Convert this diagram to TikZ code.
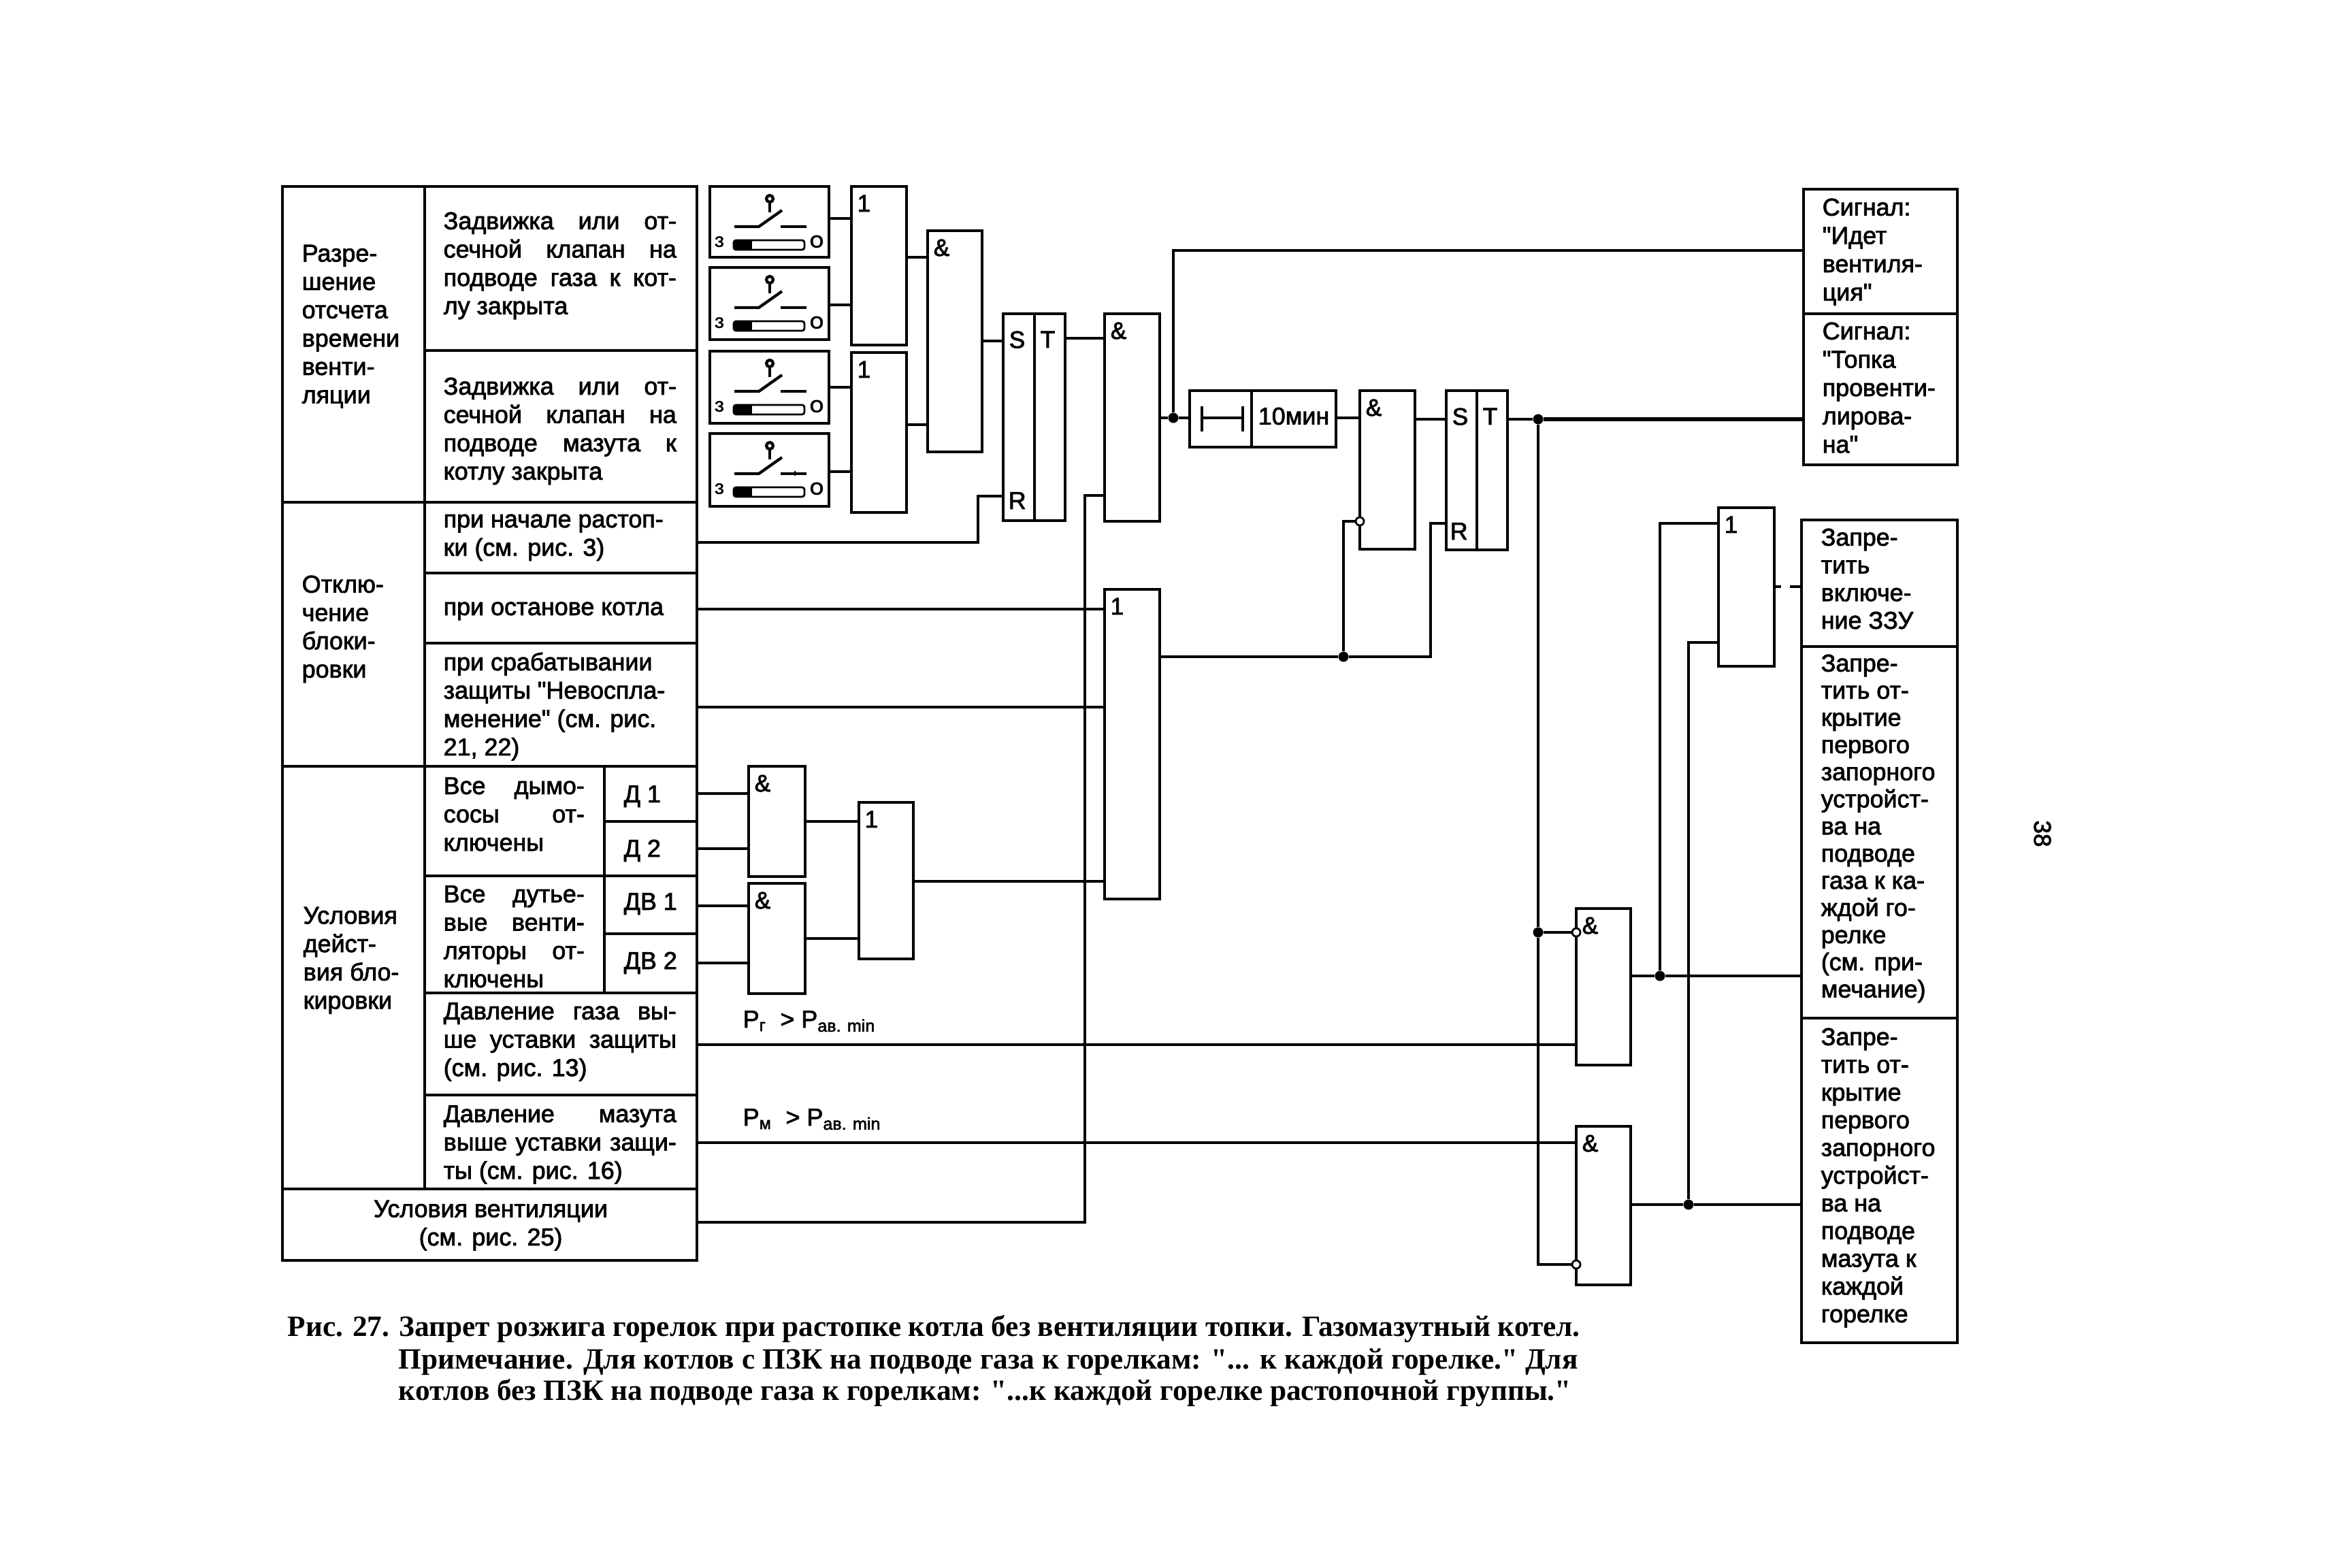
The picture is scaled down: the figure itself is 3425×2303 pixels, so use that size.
\documentclass[tikz,border=0pt]{standalone}
\usepackage{fontspec}
\setmainfont{Liberation Sans}
\newfontfamily\scanfont[FakeBold=2.2]{Liberation Sans}
\newfontfamily\capfont{Liberation Serif}
\usetikzlibrary{fit}
\hbadness=10000
\hfuzz=5pt
\tikzset{
  cell/.style={draw,line width=1.3pt,inner sep=0pt,outer sep=0pt},
  gate/.style={cell},
  glab/.style={anchor=north west,inner sep=0pt,xshift=0.8mm,yshift=-1.2mm,font=\scanfont\fontsize{10}{12}\selectfont},
  glabel/.style={label={[glab]north west:#1}},
  srlabel/.style={label={[glab,yshift=-1.3mm]north west:#1}},
  txt/.style={anchor=north west,inner sep=0pt,align=left,font=\scanfont\fontsize{10.2}{11.84}\selectfont,execute at begin node=\strut},
  txtj/.style={txt,text width=#1,align=justify,execute at begin node={\sloppy\strut}},
  txtr/.style={txt,font=\scanfont\fontsize{10.2}{#1}\selectfont},
  capl/.style={anchor=base west,inner sep=0pt,font=\capfont\bfseries\fontsize{12.3}{13.1}\selectfont},
  wire/.style={very thick},
  dot/.style={circle,fill=black,inner sep=0pt,minimum size=1.5mm},
  inv/.style={circle,draw,thick,fill=white,inner sep=0pt,minimum size=1.2mm},
}
\begin{document}
\begin{tikzpicture}[x=0.01cm,y=-0.01cm]
  \fill[white] (0,0) rectangle (3425,2303);
  % table on the left
  \node[cell,fit={(415,274)(624,738)}] (grpa) {};
  \node[cell,fit={(415,738)(624,1126)}] (grpb) {};
  \node[cell,fit={(415,1126)(624,1747)}] (grpc) {};
  \node[cell,fit={(624,274)(1024,515)}] (ca1) {};
  \node[cell,fit={(624,515)(1024,738)}] (ca2) {};
  \node[cell,fit={(624,738)(1024,842)}] (cb1) {};
  \node[cell,fit={(624,842)(1024,945)}] (cb2) {};
  \node[cell,fit={(624,945)(1024,1126)}] (cb3) {};
  \node[cell,fit={(624,1126)(888,1287)}] (cc1) {};
  \node[cell,fit={(624,1287)(888,1459)}] (cc2) {};
  \node[cell,fit={(888,1126)(1024,1207)}] (dym1) {};
  \node[cell,fit={(888,1207)(1024,1287)}] (dym2) {};
  \node[cell,fit={(888,1287)(1024,1372)}] (dut1) {};
  \node[cell,fit={(888,1372)(1024,1459)}] (dut2) {};
  \node[cell,fit={(624,1459)(1024,1609)}] (cc3) {};
  \node[cell,fit={(624,1609)(1024,1747)}] (cc4) {};
  \node[cell,fit={(415,1747)(1024,1852)}] (vent) {};

  \node[txt] (ta) at (443,359) {Разре-\\шение\\отсчета\\времени\\венти-\\ляции};
  \node[txt] (tb) at (443,845) {Отклю-\\чение\\блоки-\\ровки};
  \node[txt] (tc) at (445,1332) {Условия\\дейст-\\вия бло-\\кировки};
  \node[txtj=3.42cm] (ta1) at (651,307) {Задвижка или от-\linebreak сечной клапан на\linebreak подводе газа к кот-\linebreak лу закрыта};
  \node[txtj=3.42cm] (ta2) at (651,550) {Задвижка или от-\linebreak сечной клапан на\linebreak подводе мазута к\linebreak котлу закрыта};
  \node[txt] (tb1) at (651,755) {при начале растоп-\\ки (см. рис. 3)};
  \node[txt] (tb2) at (651,874) {при останове котла};
  \node[txt] (tb3) at (651,958) {при срабатывании\\защиты "Невоспла-\\менение" (см. рис.\\21, 22)};
  \node[txtj=2.07cm] (tc1) at (651,1137) {Все дымо-\linebreak сосы от-\linebreak ключены};
  \node[txtj=2.07cm] (tc2) at (651,1296) {Все дутье-\linebreak вые венти-\linebreak ляторы от-\linebreak ключены};
  \node[txt] (td1) at (916,1149) {Д 1};
  \node[txt] (td2) at (916,1229) {Д 2};
  \node[txt] (tv1) at (916,1307) {ДВ 1};
  \node[txt] (tv2) at (916,1394) {ДВ 2};
  \node[txtj=3.42cm] (tc3) at (651,1468) {Давление газа вы-\linebreak ше уставки защиты\linebreak (см. рис. 13)};
  \node[txtj=3.42cm] (tc4) at (651,1619) {Давление мазута\linebreak выше уставки защи-\linebreak ты (см. рис. 16)};
  \node[txt,anchor=north,align=center] (tvent) at (721,1763) {Условия вентиляции\\(см. рис. 25)};

  % limit switches
  \foreach \nm/\ya/\yb in {sw1/274/378,sw2/393/499,sw3/516/622,sw4/637/744}{
    \node[cell,fit={(1043,\ya)(1218,\yb)}] (\nm) {};
    \begin{scope}[shift={(1043,\ya)},thick]
      \draw[very thick] (88,18) circle (5);
      \draw[very thick] (88,23)--(88,38);
      \draw[very thick] (36,59)--(72,59)--(106,35);
      \draw[very thick] (104,59)--(142,59);
      \draw[thick,rounded corners=1pt] (35,79) rectangle (139,93);
      \fill (35,79) rectangle (62,93);
      \node[font=\bfseries\fontsize{6.5}{7}\selectfont,inner sep=0pt] (\nm z) at (14,82) {З};
      \node[font=\bfseries\fontsize{7.5}{7}\selectfont,inner sep=0pt] (\nm o) at (157,81) {О};
    \end{scope}
  }
  \draw[thick] (1168,692)--(1168,699);

  % gates
  \node[gate,fit={(1251,274)(1332,507)},glabel=1] (or1) {};
  \node[gate,fit={(1251,518)(1332,753)},glabel=1] (or2) {};
  \node[gate,fit={(1363,339)(1443,664)},glabel=\&] (and1) {};
  \node[gate,fit={(1474,461)(1520,765)},srlabel=S] (sr1s) {};
  \node[gate,fit={(1520,461)(1565,765)},srlabel=T] (sr1t) {};
  \node[txt,inner sep=0pt] (sr1r) at (1481,718) {R};
  \node[gate,fit={(1623,461)(1704,766)},glabel=\&] (and2) {};
  \node[gate,fit={(1623,866)(1704,1321)},glabel=1] (or3) {};
  \node[gate,fit={(1100,1126)(1183,1288)},glabel=\&] (and6) {};
  \node[gate,fit={(1100,1298)(1183,1460)},glabel=\&] (and7) {};
  \node[gate,fit={(1262,1179)(1342,1409)},glabel=1] (or4) {};
  \node[gate,fit={(1748,574)(1839,657)}] (dly) {};
  \node[gate,fit={(1839,574)(1963,657)}] (dlt) {};
  \node[txt,anchor=center] (dltx) at (dlt.center) {10мин};
  \draw[very thick] (1766,597)--(1766,634) (1826,597)--(1826,634) (1766,614)--(1826,614);
  \node[gate,fit={(1998,574)(2079,807)},glabel=\&] (and3) {};
  \node[gate,fit={(2125,574)(2170,808)},srlabel=S] (sr2s) {};
  \node[gate,fit={(2170,574)(2215,808)},srlabel=T] (sr2t) {};
  \node[txt,inner sep=0pt] (sr2r) at (2130,763) {R};
  \node[gate,fit={(2525,746)(2607,979)},glabel=1] (or5) {};
  \node[gate,fit={(2316,1335)(2396,1565)},glabel=\&] (and4) {};
  \node[gate,fit={(2316,1655)(2396,1888)},glabel=\&] (and5) {};

  % boxes on the right
  \node[cell,fit={(2650,278)(2876,461)}] (sig1) {};
  \node[cell,fit={(2650,461)(2876,683)}] (sig2) {};
  \node[cell,fit={(2647,764)(2876,950)}] (ban1) {};
  \node[cell,fit={(2647,950)(2876,1496)}] (ban2) {};
  \node[cell,fit={(2647,1496)(2876,1973)}] (ban3) {};
  \node[txt] (tsig1) at (2677,291) {Сигнал:\\"Идет\\вентиля-\\ция"};
  \node[txt] (tsig2) at (2677,473) {Сигнал:\\"Топка\\провенти-\\лирова-\\на"};
  \node[txtr=11.58] (tban1) at (2675,776) {Запре-\\тить\\включе-\\ние ЗЗУ};
  \node[txtr=11.35] (tban2) at (2675,961) {Запре-\\тить от-\\крытие\\первого\\запорного\\устройст-\\ва на\\подводе\\газа к ка-\\ждой го-\\релке\\(см. при-\\мечание)};
  \node[txtr=11.58] (tban3) at (2675,1510) {Запре-\\тить от-\\крытие\\первого\\запорного\\устройст-\\ва на\\подводе\\мазута к\\каждой\\горелке};

  \node[txt] (pgas) at (1091,1480) {P\textsubscript{г}\ \ > P\textsubscript{ав. min}};
  \node[txt] (pmaz) at (1091,1624) {P\textsubscript{м}\ \ > P\textsubscript{ав. min}};

  % junctions and inverted inputs
  \node[dot] (j1) at (1724,614) {};
  \node[dot] (j2) at (1974,965) {};
  \node[dot] (j3) at (2260,616) {};
  \node[dot] (j4) at (2260,1370) {};
  \node[dot] (j5) at (2439,1434) {};
  \node[dot] (j6) at (2481,1770) {};
  \node[inv] (n3) at (1998,766) {};
  \node[inv] (n4) at (2316,1370) {};
  \node[inv] (n5) at (2316,1858) {};

  % wires
  \draw[wire] (sw1.east |- 0,321)--(or1.west |- 0,321);
  \draw[wire] (sw2.east |- 0,448)--(or1.west |- 0,448);
  \draw[wire] (sw3.east |- 0,569)--(or2.west |- 0,569);
  \draw[wire] (sw4.east |- 0,693)--(or2.west |- 0,693);
  \draw[wire] (or1.east |- 0,378)--(and1.west |- 0,378);
  \draw[wire] (or2.east |- 0,624)--(and1.west |- 0,624);
  \draw[wire] (and1.east |- 0,501)--(sr1s.west |- 0,501);
  \draw[wire] (sr1t.east |- 0,497)--(and2.west |- 0,497);
  \draw[wire] (cb1.east |- 0,797)--(1437,797)--(1437,729)--(sr1s.west |- 0,729);
  \draw[wire] (cb2.east |- 0,895)--(or3.west |- 0,895);
  \draw[wire] (cb3.east |- 0,1039)--(or3.west |- 0,1039);
  \draw[wire] (vent.east |- 0,1796)--(1594,1796)--(1594,728)--(and2.west |- 0,728);
  \draw[wire] (dym1.east |- 0,1166)--(and6.west |- 0,1166);
  \draw[wire] (dym2.east |- 0,1247)--(and6.west |- 0,1247);
  \draw[wire] (dut1.east |- 0,1331)--(and7.west |- 0,1331);
  \draw[wire] (dut2.east |- 0,1415)--(and7.west |- 0,1415);
  \draw[wire] (and6.east |- 0,1207)--(or4.west |- 0,1207);
  \draw[wire] (and7.east |- 0,1379)--(or4.west |- 0,1379);
  \draw[wire] (or4.east |- 0,1295)--(or3.west |- 0,1295);
  \draw[wire] (cc3.east |- 0,1535)--(and4.west |- 0,1535);
  \draw[wire] (cc4.east |- 0,1679)--(and5.west |- 0,1679);
  \draw[wire] (and2.east |- j1)--(j1)--(dly.west |- j1);
  \draw[wire] (j1)--(1724,368)--(sig1.west |- 0,368);
  \draw[wire] (dlt.east |- 0,614)--(and3.west |- 0,614);
  \draw[wire] (and3.east |- 0,616)--(sr2s.west |- 0,616);
  \draw[wire] (sr2t.east |- j3)--(j3);
  \draw[line width=1.8pt] (j3)--(sig2.west |- j3);
  \draw[wire] (j3)--(j4)--(2260,1858)--(n5);
  \draw[wire] (j4)--(n4);
  \draw[wire] (or3.east |- j2)--(j2)--(2102,965)--(2102,769)--(sr2s.west |- 0,769);
  \draw[wire] (j2)--(1974,766)--(n3);
  \draw[wire] (and4.east |- j5)--(j5)--(ban2.west |- j5);
  \draw[wire] (and5.east |- j6)--(j6)--(ban3.west |- j6);
  \draw[wire] (j5)--(2439,769)--(or5.west |- 0,769);
  \draw[wire] (j6)--(2481,944)--(or5.west |- 0,944);
  \draw[wire,dash pattern=on 0.1cm off 0.13cm on 0.16cm off 0cm] (or5.east |- 0,862)--(ban1.west |- 0,862);

  % caption and page number
  \node[capl] (capa) at (422,1963) {\makebox[18.98cm][s]{Рис. 27. Запрет розжига горелок при растопке котла без вентиляции топки. Газомазутный котел.}};
  \node[capl] (capb) at (585,2011) {\makebox[17.32cm][s]{Примечание. Для котлов с ПЗК на подводе газа к горелкам: "... к каждой горелке." Для}};
  \node[capl] (capc) at (585,2057) {\makebox[17.22cm][s]{котлов без ПЗК на подводе газа к горелкам: "...к каждой горелке растопочной группы."}};
  \node[rotate=-90,font=\scanfont\fontsize{10}{12}\selectfont,inner sep=0pt] (pgno) at (3001,1225) {38};
\end{tikzpicture}
\end{document}
